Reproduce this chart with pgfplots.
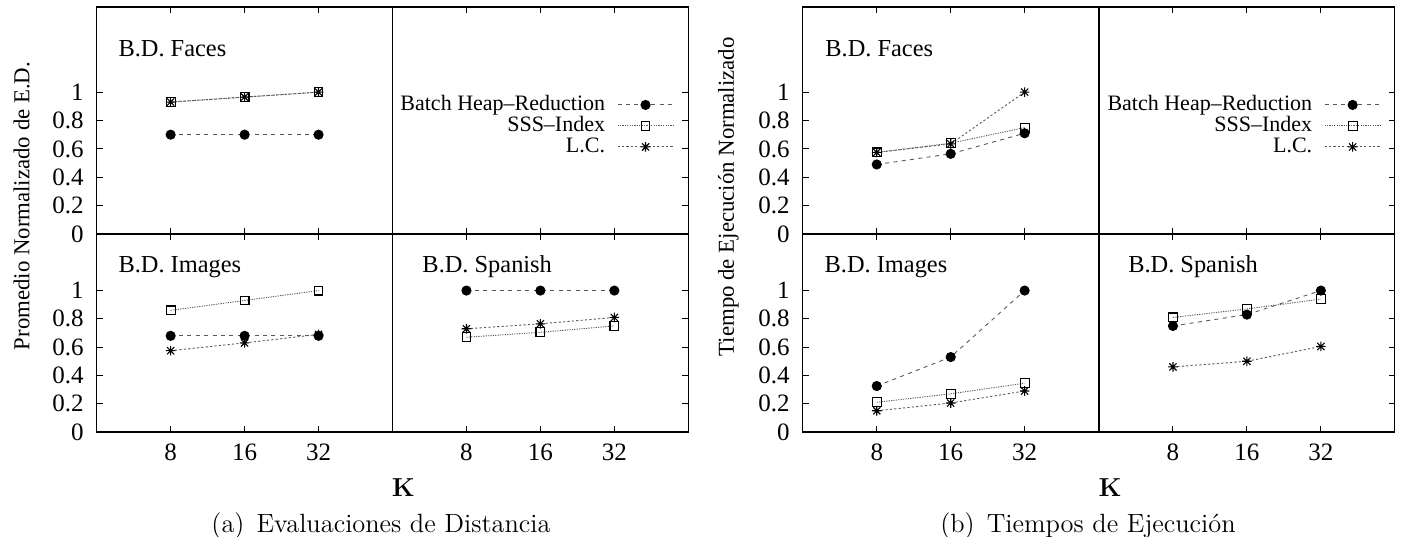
\documentclass[border=0pt]{standalone}
\usepackage{fontspec}
\usepackage{pgfplots}
\pgfplotsset{compat=1.18}
\newfontfamily\gp{Liberation Serif}

\pgfdeclareplotmark{gpstar}{%
  \pgfpathmoveto{\pgfqpoint{-\pgfplotmarksize}{0pt}}%
  \pgfpathlineto{\pgfqpoint{\pgfplotmarksize}{0pt}}%
  \pgfpathmoveto{\pgfqpoint{0pt}{-\pgfplotmarksize}}%
  \pgfpathlineto{\pgfqpoint{0pt}{\pgfplotmarksize}}%
  \pgfpathmoveto{\pgfqpoint{-0.75\pgfplotmarksize}{-0.75\pgfplotmarksize}}%
  \pgfpathlineto{\pgfqpoint{0.75\pgfplotmarksize}{0.75\pgfplotmarksize}}%
  \pgfpathmoveto{\pgfqpoint{-0.75\pgfplotmarksize}{0.75\pgfplotmarksize}}%
  \pgfpathlineto{\pgfqpoint{0.75\pgfplotmarksize}{-0.75\pgfplotmarksize}}%
  \pgfusepathqstroke}

\tikzset{lbl/.style={anchor=base west, font=\gp\fontsize{12.2}{14}\selectfont}}

\pgfplotsset{
  cell/.style={scale only axis, width=147.9pt, xmin=0, xmax=4, ymin=0,
    xtick={1,2,3}, xticklabels={}, ytick={0,0.2,0.4,0.6,0.8,1}, yticklabels={},
    xtick pos=both,
    tick align=inside, major tick length=3pt,
    axis line style={line width=0.6pt},
    tick style={line width=0.5pt, black},
    font=\gp\fontsize{12.5}{14}\selectfont,
    tick label style={font=\gp\fontsize{12.5}{14}\selectfont},
    xticklabel style={yshift=-2.5pt},
    yticklabel style={xshift=-3pt},
  },
  toprow/.style={height=113.5pt, ymax=1.6},
  botrow/.style={height=99pt, ymax=1.4, xticklabels={8,16,32}},
  leftcol/.style={ytick pos=left, yticklabels={0,0.2,0.4,0.6,0.8,1}},
  rightcol/.style={ytick pos=right, yticklabels={}},
  bhr/.style={black!65, line width=0.45pt, dash pattern=on 2pt off 2.2pt, mark=*, mark size=2.3pt, mark options={solid, black}},
  sss/.style={black!65, line width=0.45pt, dash pattern=on 0.6pt off 0.6pt, mark=square, mark size=2.2pt, mark options={solid, black, line width=0.55pt}},
  lc/.style={black!65, line width=0.45pt, dash pattern=on 1.1pt off 1.1pt, mark=gpstar, mark size=2.4pt, mark options={solid, black, line width=0.55pt}},
  legcell/.style={
    legend image code/.code={\draw[mark repeat=2,mark phase=2,##1] plot coordinates {(0pt,0pt)(14pt,0pt)(28pt,0pt)};},
    legend plot pos=right, legend cell align=right,
    legend style={draw=none, fill=none, inner sep=0pt, anchor=east,
      font=\gp\fontsize{11}{12}\selectfont, row sep=0pt,
      nodes={inner sep=1pt, text height=7pt, text depth=1.5pt},
      /tikz/every odd column/.append style={column sep=5pt}},
  },
}

\begin{document}
\begin{tikzpicture}
\path[use as bounding box] (0,0) rectangle (703pt,268pt);

% ---------------- Panel (a) ----------------
\begin{axis}[cell, toprow, leftcol, at={(48.35pt,151pt)}, anchor=south west]
\addplot[bhr] coordinates {(1,0.70)(2,0.70)(3,0.70)};
\addplot[sss] coordinates {(1,0.93)(2,0.965)(3,1.0)};
\addplot[lc] coordinates {(1,0.93)(2,0.965)(3,1.0)};
\node[lbl] at (axis cs:0.2,1.25) {B.D. Faces};
\end{axis}

\begin{axis}[cell, toprow, rightcol, at={(196.25pt,151pt)}, anchor=south west,
  legcell, legend style={at={(0.953,0.476)}}]
\addlegendimage{bhr}\addlegendentry{Batch Heap\textendash Reduction}
\addlegendimage{sss}\addlegendentry{SSS\textendash Index}
\addlegendimage{lc}\addlegendentry{L.C.}
\end{axis}

\begin{axis}[cell, botrow, leftcol, at={(48.35pt,52pt)}, anchor=south west]
\addplot[bhr] coordinates {(1,0.68)(2,0.68)(3,0.68)};
\addplot[sss] coordinates {(1,0.86)(2,0.93)(3,1.0)};
\addplot[lc] coordinates {(1,0.575)(2,0.63)(3,0.69)};
\node[lbl] at (axis cs:0.2,1.13) {B.D. Images};
\end{axis}

\begin{axis}[cell, botrow, rightcol, at={(196.25pt,52pt)}, anchor=south west]
\addplot[bhr] coordinates {(1,1.0)(2,1.0)(3,1.0)};
\addplot[sss] coordinates {(1,0.67)(2,0.705)(3,0.75)};
\addplot[lc] coordinates {(1,0.73)(2,0.765)(3,0.81)};
\node[lbl] at (axis cs:0.31,1.13) {B.D. Spanish};
\end{axis}

\node[rotate=90, anchor=center, font=\gp\fontsize{11.4}{13}\selectfont] at (10.85pt,165pt) {Promedio Normalizado de E.D.};
\node[anchor=base, inner sep=0pt, font=\fontsize{13}{15}\selectfont\bfseries] at (201.65pt,20pt) {K};
\node[anchor=base, inner sep=0pt, font=\fontsize{13.2}{15}\selectfont] at (190.5pt,2pt) {(a)\hspace{6pt}Evaluaciones de Distancia};

% ---------------- Panel (b) ----------------
\begin{axis}[cell, toprow, leftcol, at={(401.4pt,151pt)}, anchor=south west]
\addplot[bhr] coordinates {(1,0.49)(2,0.565)(3,0.71)};
\addplot[sss] coordinates {(1,0.575)(2,0.64)(3,0.75)};
\addplot[lc] coordinates {(1,0.575)(2,0.635)(3,1.0)};
\node[lbl] at (axis cs:0.21,1.25) {B.D. Faces};
\end{axis}

\begin{axis}[cell, toprow, rightcol, at={(549.5pt,151pt)}, anchor=south west,
  legcell, legend style={at={(0.955,0.476)}}]
\addlegendimage{bhr}\addlegendentry{Batch Heap\textendash Reduction}
\addlegendimage{sss}\addlegendentry{SSS\textendash Index}
\addlegendimage{lc}\addlegendentry{L.C.}
\end{axis}

\begin{axis}[cell, botrow, leftcol, at={(401.4pt,52pt)}, anchor=south west]
\addplot[bhr] coordinates {(1,0.325)(2,0.53)(3,1.0)};
\addplot[sss] coordinates {(1,0.21)(2,0.27)(3,0.345)};
\addplot[lc] coordinates {(1,0.15)(2,0.205)(3,0.29)};
\node[lbl] at (axis cs:0.2,1.13) {B.D. Images};
\end{axis}

\begin{axis}[cell, botrow, rightcol, at={(549.5pt,52pt)}, anchor=south west]
\addplot[bhr] coordinates {(1,0.75)(2,0.83)(3,1.0)};
\addplot[sss] coordinates {(1,0.81)(2,0.87)(3,0.94)};
\addplot[lc] coordinates {(1,0.46)(2,0.50)(3,0.605)};
\node[lbl] at (axis cs:0.30,1.13) {B.D. Spanish};
\end{axis}

\node[rotate=90, anchor=center, font=\gp\fontsize{11.4}{13}\selectfont] at (364.15pt,169.6pt) {Tiempo de Ejecución Normalizado};
\node[anchor=base, inner sep=0pt, font=\fontsize{13}{15}\selectfont\bfseries] at (555pt,20pt) {K};
\node[anchor=base, inner sep=0pt, font=\fontsize{13.2}{15}\selectfont] at (544pt,2pt) {(b)\hspace{6pt}Tiempos de Ejecución};
\end{tikzpicture}
\end{document}
